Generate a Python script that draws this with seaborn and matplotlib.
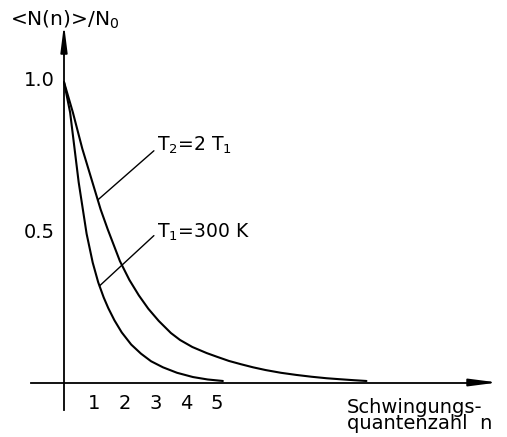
import matplotlib
matplotlib.use("Agg")
import matplotlib.pyplot as plt
import seaborn as sns
import pandas as pd

# ---- data ----
n_T1 = [0.0, 0.2, 0.48, 0.74, 0.94, 1.12, 1.3, 1.45, 1.65, 1.89, 2.2, 2.52, 2.85, 3.24, 3.7, 4.22, 4.7, 5.2]
v_T1 = [0.99, 0.89, 0.66, 0.49, 0.395, 0.33, 0.28, 0.245, 0.205, 0.165, 0.125, 0.095, 0.07, 0.05, 0.032, 0.018, 0.01, 0.005]
n_T2 = [0.0, 0.29, 0.6, 0.9, 1.2, 1.43, 1.83, 2.14, 2.45, 2.76, 3.1, 3.5, 3.8, 4.2, 4.67, 5.0, 5.4, 5.8,
        6.19, 6.6, 7.1, 7.6, 8.1, 8.6, 9.0, 9.5, 9.9]
v_T2 = [0.99, 0.89, 0.77, 0.67, 0.57, 0.505, 0.40, 0.338, 0.287, 0.243, 0.203, 0.163, 0.14, 0.117, 0.097,
        0.085, 0.071, 0.06, 0.05, 0.041, 0.032, 0.025, 0.019, 0.014, 0.011, 0.0075, 0.005]

x_ticks = [1, 2, 3, 4, 5, 6, 7, 8, 9, 10]
x_ticklabels = ["1", "2", "3", "4", "5", "", "", "", "", ""]
y_ticks = [0.5, 1.0]
y_ticklabels = ["0.5", "1.0"]

label_T1 = r"T$_1$=300 K"
label_T2 = r"T$_2$=2 T$_1$"
y_label = "<N(n)>/N$_0$"
x_label = "Schwingungs-\nquantenzahl  n"

sns.set_style("white")
plt.rcParams["font.family"] = ["DejaVu Sans"]
plt.rcParams["mathtext.fontset"] = "dejavusans"
plt.rcParams["font.size"] = 13
plt.rcParams["text.color"] = "black"

fig = plt.figure(figsize=(5.07, 4.37), dpi=100)
ax = fig.add_axes([0, 0, 1, 1])
ax.set_facecolor("white")

df1 = pd.DataFrame({"n": n_T1, "v": v_T1})
df2 = pd.DataFrame({"n": n_T2, "v": v_T2})
sns.lineplot(data=df1, x="n", y="v", ax=ax, color="black", lw=1.5, sort=False, estimator=None, legend=False)
sns.lineplot(data=df2, x="n", y="v", ax=ax, color="black", lw=1.5, sort=False, estimator=None, legend=False)

px_x, px_y = 30.55, 303.5
x0, y0 = 64.0, 382.5
ax.set_xlim(-x0 / px_x, (507 - x0) / px_x)
ax.set_ylim(-(437 - y0) / px_y, y0 / px_y)

for s in ["top", "right"]:
    ax.spines[s].set_visible(False)
ax.spines["left"].set_position(("data", 0))
ax.spines["bottom"].set_position(("data", 0))
ax.spines["left"].set_bounds(-0.091, 1.09)
ax.spines["bottom"].set_bounds(-1.08, 13.4)
for s in ["left", "bottom"]:
    ax.spines[s].set_linewidth(1.3)
    ax.spines[s].set_color("black")

ax.set_xticks(x_ticks)
ax.set_xticklabels(x_ticklabels)
ax.set_yticks(y_ticks)
ax.set_yticklabels(y_ticklabels)
ax.tick_params(axis="x", direction="in", length=5, width=1.1, pad=8, labelsize=14,
               colors="black")
ax.tick_params(axis="y", direction="in", length=5, width=1.1, pad=7, labelsize=14,
               colors="black")
ax.set_xlabel("")
ax.set_ylabel("")

# arrow heads on axes
ax.annotate("", xy=(14.2, 0), xytext=(13.3, 0),
            arrowprops=dict(arrowstyle="-|>,head_length=1.7,head_width=0.22", lw=1.3,
                            color="black", shrinkA=0, shrinkB=0, mutation_scale=10))
ax.annotate("", xy=(0, 1.18), xytext=(0, 1.08),
            arrowprops=dict(arrowstyle="-|>,head_length=1.6,head_width=0.2", lw=1.3,
                            color="black", shrinkA=0, shrinkB=0, mutation_scale=10))

# labels with leader lines
ax.annotate(label_T2, xy=(1.10, 0.601), xytext=(3.05, 0.78), ha="left", va="center",
            fontsize=13.5, color="black",
            arrowprops=dict(arrowstyle="-", lw=1.0, color="black",
                            shrinkA=0, shrinkB=0, relpos=(0, 0.4)))
ax.annotate(label_T1, xy=(1.16, 0.318), xytext=(3.05, 0.494), ha="left", va="center",
            fontsize=13.5, color="black",
            arrowprops=dict(arrowstyle="-", lw=1.0, color="black",
                            shrinkA=0, shrinkB=0, relpos=(0, 0.5)))

ax.text(-1.78, 1.195, y_label, ha="left", va="center", fontsize=14.5, color="black")
ax.text(9.25, -0.05, x_label, ha="left", va="top", fontsize=14, linespacing=0.8,
        color="black")

fig.savefig("out.png", dpi=100)
